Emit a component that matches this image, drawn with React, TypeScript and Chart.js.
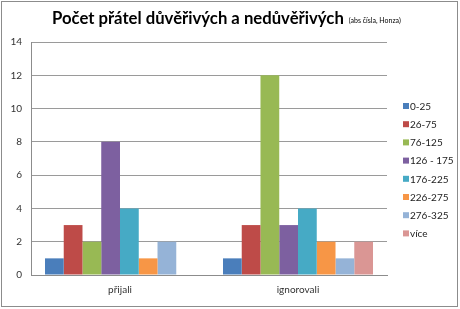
import React, { useEffect, useRef } from "react";
import { Chart, registerables } from "chart.js";

Chart.register(...registerables);

const categories = ["přijali", "ignorovali"];
const seriesLabels = ["0-25", "26-75", "76-125", "126 - 175", "176-225", "226-275", "276-325", "více"];
const s0_25 = [1, 1];
const s26_75 = [3, 3];
const s76_125 = [2, 12];
const s126_175 = [8, 3];
const s176_225 = [4, 4];
const s226_275 = [1, 2];
const s276_325 = [2, 1];
const sVice = [0, 2];
const yTicks = [0, 2, 4, 6, 8, 10, 12, 14];
const colors = ["#4A7EBB", "#BE4B48", "#98B954", "#7D60A0", "#46AAC5", "#F79646", "#95B3D7", "#DA9694"];
const titleMain = "Počet přátel důvěřivých a nedůvěřivých";
const titleSub = "(abs čísla, Honza)";

const FONT = "Lato, 'Open Sans', sans-serif";

export default function App() {
  const ref = useRef<HTMLCanvasElement>(null);
  useEffect(() => {
    const values = [s0_25, s26_75, s76_125, s126_175, s176_225, s226_275, s276_325, sVice];
    const frame = {
      id: "frame",
      afterDraw(chart: any) {
        const ctx = chart.ctx;
        ctx.save();
        ctx.strokeStyle = "#8c8c8c";
        ctx.lineWidth = 1;
        ctx.strokeRect(1.5, 1.5, 456, 305);
        ctx.fillStyle = "#000";
        ctx.textBaseline = "alphabetic";
        ctx.textAlign = "left";
        ctx.font = `bold 16.7px ${FONT}`;
        const w1 = ctx.measureText(titleMain).width;
        const x0 = 52;
        ctx.fillText(titleMain, x0, 24);
        ctx.font = `7px ${FONT}`;
        ctx.fillText(titleSub, x0 + w1 + 5, 23);
        const ds = chart.data.datasets;
        ctx.font = `10px ${FONT}`;
        ctx.textBaseline = "middle";
        for (let i = 0; i < ds.length; i++) {
          const y = 106 + i * 18.2;
          ctx.fillStyle = ds[i].backgroundColor;
          ctx.fillRect(403, y - 3, 6, 6);
          ctx.fillStyle = "#222";
          ctx.fillText(ds[i].label, 410, y + 0.5);
        }
        ctx.restore();
      },
    };
    const chart = new Chart(ref.current!, {
      type: "bar",
      data: {
        labels: categories,
        datasets: seriesLabels.map((l, i) => ({
          label: l,
          data: values[i],
          backgroundColor: colors[i],
          borderWidth: 0,
          barPercentage: 1,
          categoryPercentage: 0.843,
        })),
      },
      options: {
        animation: false,
        responsive: false,
        maintainAspectRatio: false,
        layout: { padding: { top: 42, right: 73, left: 0, bottom: 0 } },
        plugins: { legend: { display: false }, title: { display: false }, tooltip: { enabled: false } },
        scales: {
          x: {
            grid: { display: false, drawTicks: false },
            border: { display: true, color: "#8c8c8c", width: 1 },
            ticks: { color: "#333", font: { family: FONT, size: 10 }, padding: 9 },
            afterFit: (s: any) => { s.height = 34; },
          },
          y: {
            min: 0,
            max: 14,
            afterBuildTicks: (s: any) => { s.ticks = yTicks.map((v) => ({ value: v })); },
            grid: { color: "#9a9a9a", lineWidth: 1, drawTicks: false },
            border: { display: true, color: "#8c8c8c", width: 1 },
            ticks: { color: "#333", font: { family: FONT, size: 10 }, padding: 9 },
            afterFit: (s: any) => { s.width = 31; },
          },
        },
      },
      plugins: [frame],
    });
    return () => chart.destroy();
  }, []);
  return (
    <div style={{ position: "fixed", left: 0, top: 0, width: 460, height: 309, background: "#fff" }}>
      <canvas ref={ref} width={460} height={309} style={{ display: "block", width: 460, height: 309 }} />
    </div>
  );
}
